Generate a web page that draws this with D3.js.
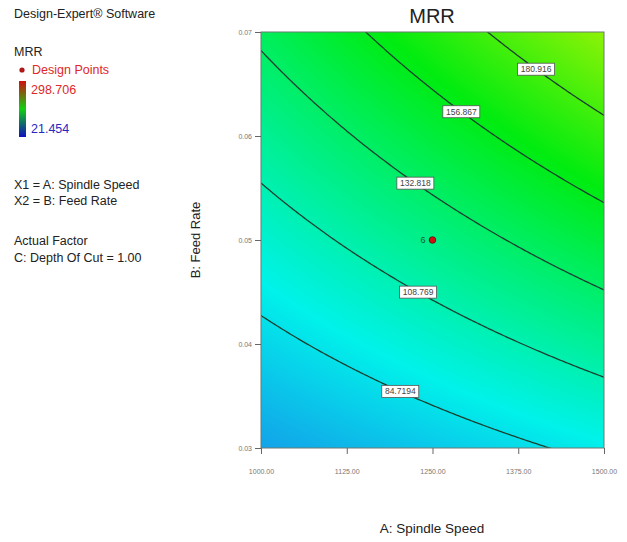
<!DOCTYPE html>
<html lang="en">
<head>
	<title>MRR contour</title>
	<script src="https://d3js.org/d3.v7.min.js" charset="utf-8"></script>
	<style>
	body { margin: 0; background: #fff; }
	text { font-family: "Liberation Sans", Arial, sans-serif; }
	</style>
</head>
<body>
	<script>
	// Factor ranges and ticks
	var speedTicks = [1000, 1125, 1250, 1375, 1500];
	var feedTicks = [0.03, 0.04, 0.05, 0.06, 0.07];

	// Fitted model in coded units: MRR = b0 + b1*x1 + b2*x2 + b12*x1*x2
	var modelCoef = [122.5, 24.07, 47.53, 9.78];

	// Contour levels and where (spindle speed) each label sits
	var contourLevels = [84.7194, 108.769, 132.818, 156.867, 180.916];
	var labelSpeeds = [1203, 1229, 1225, 1292, 1401];

	// Design points: speed, feed, replicate count
	var designSpeed = [1250];
	var designFeed = [0.05];
	var designCount = [6];

	// Colour range of the response
	var responseMin = 21.454, responseMax = 298.706;

	var w = 627, h = 542;
	var plot = { left: 261, top: 32, right: 604, bottom: 448 };

	var x = d3.scaleLinear().domain([1000, 1500]).range([plot.left, plot.right]);
	var y = d3.scaleLinear().domain([0.03, 0.07]).range([plot.bottom, plot.top]);

	function mrr(a, b) {
		var x1 = (a - 1250) / 250, x2 = (b - 0.05) / 0.02;
		return modelCoef[0] + modelCoef[1] * x1 + modelCoef[2] * x2 + modelCoef[3] * x1 * x2;
	}
	// solve feed for a given level (model is linear in x2)
	function feedAt(level, a) {
		var x1 = (a - 1250) / 250;
		var x2 = (level - modelCoef[0] - modelCoef[1] * x1) / (modelCoef[2] + modelCoef[3] * x1);
		return 0.05 + 0.02 * x2;
	}

	var color = d3.scaleLinear()
		.domain([0, 0.25, 0.5, 0.75, 1].map(function(t) { return responseMin + t * (responseMax - responseMin); }))
		.range(["#2a3ce8", "#00f2ea", "#00ec10", "#e0f600", "#ff0000"]);

	var svg = d3.select("body").append("svg")
		.attr("width", w)
		.attr("height", h);

	// raster fill drawn on a canvas, placed as image
	var pw = plot.right - plot.left, ph = plot.bottom - plot.top;
	var canvas = document.createElement("canvas");
	canvas.width = pw; canvas.height = ph;
	var ctx = canvas.getContext("2d");
	var img = ctx.createImageData(pw, ph);
	for (var j = 0; j < ph; j++) {
		for (var i = 0; i < pw; i++) {
			var c = d3.rgb(color(mrr(x.invert(plot.left + i + 0.5), y.invert(plot.top + j + 0.5))));
			var k = (j * pw + i) * 4;
			img.data[k] = c.r; img.data[k + 1] = c.g; img.data[k + 2] = c.b; img.data[k + 3] = 255;
		}
	}
	ctx.putImageData(img, 0, 0);
	svg.append("image")
		.attr("x", plot.left).attr("y", plot.top)
		.attr("width", pw).attr("height", ph)
		.attr("href", canvas.toDataURL());

	svg.append("clipPath").attr("id", "clip")
		.append("rect")
		.attr("x", plot.left).attr("y", plot.top)
		.attr("width", pw).attr("height", ph);

	// contour lines
	var speeds = d3.range(1000, 1500.1, 2.5);
	var line = d3.line()
		.x(function(d) { return x(d[0]); })
		.y(function(d) { return y(d[1]); });

	svg.append("g").attr("clip-path", "url(#clip)")
		.selectAll("path")
		.data(contourLevels)
		.enter()
		.append("path")
		.attr("d", function(L) {
			var pts = speeds.map(function(a) { return [a, feedAt(L, a)]; })
				.filter(function(p) { return p[1] > 0.025 && p[1] < 0.075; });
			return line(pts);
		})
		.attr("fill", "none")
		.attr("stroke", "#1c4030")
		.attr("stroke-width", 1.3);

	// plot frame
	svg.append("rect")
		.attr("x", plot.left).attr("y", plot.top)
		.attr("width", pw).attr("height", ph)
		.attr("fill", "none")
		.attr("stroke", "#6a7a70")
		.attr("stroke-width", 1);

	// contour labels
	var labels = svg.append("g").selectAll("g")
		.data(contourLevels)
		.enter()
		.append("g")
		.attr("transform", function(L, i) {
			return "translate(" + x(labelSpeeds[i]) + "," + y(feedAt(L, labelSpeeds[i])) + ")";
		});
	labels.append("rect")
		.attr("x", -18.5).attr("y", -6)
		.attr("width", 37).attr("height", 12)
		.attr("fill", "#fff")
		.attr("stroke", "#555")
		.attr("stroke-width", 0.8);
	labels.append("text")
		.attr("text-anchor", "middle")
		.attr("dy", "0.35em")
		.attr("font-size", "8.5px")
		.attr("fill", "#444")
		.text(function(L) { return String(L); });

	// design points
	designSpeed.forEach(function(a, i) {
		svg.append("circle")
			.attr("cx", x(a)).attr("cy", y(designFeed[i]))
			.attr("r", 3.3)
			.attr("fill", "#d01010")
			.attr("stroke", "#5a1010")
			.attr("stroke-width", 0.8);
		svg.append("text")
			.attr("x", x(a) - 7).attr("y", y(designFeed[i]))
			.attr("dy", "0.35em")
			.attr("text-anchor", "end")
			.attr("font-size", "9px")
			.attr("fill", "#1a5a2a")
			.text(designCount[i]);
	});

	// axes
	var xAxis = d3.axisBottom(x).tickValues(speedTicks).tickSize(6).tickFormat(d3.format(".2f"));
	var gx = svg.append("g").attr("transform", "translate(0," + plot.bottom + ")").call(xAxis);
	var yAxis = d3.axisLeft(y).tickValues(feedTicks).tickSize(6).tickFormat(d3.format(".2f"));
	var gy = svg.append("g").attr("transform", "translate(" + plot.left + ",0)").call(yAxis);
	[gx, gy].forEach(function(g) {
		g.select(".domain").remove();
		g.selectAll("line").attr("stroke", "#666");
		g.selectAll("text").attr("font-size", "7px").attr("fill", "#777")
			.attr("font-family", "'Liberation Sans', Arial, sans-serif");
	});
	gx.selectAll("text").attr("dy", "2.4em");

	// title and axis titles
	svg.append("text")
		.attr("x", 432).attr("y", 23)
		.attr("text-anchor", "middle")
		.attr("font-size", "20px")
		.attr("fill", "#222")
		.text("MRR");
	svg.append("text")
		.attr("text-anchor", "middle")
		.attr("font-size", "13px")
		.attr("fill", "#222")
		.attr("transform", "translate(200, 240) rotate(-90)")
		.text("B: Feed Rate");
	svg.append("text")
		.attr("x", 432).attr("y", 533)
		.attr("text-anchor", "middle")
		.attr("font-size", "13.5px")
		.attr("fill", "#222")
		.text("A: Spindle Speed");

	// left legend
	var legend = svg.append("g").attr("font-size", "12.5px").attr("fill", "#222");
	var legendLines = [
		["Design-Expert\u00ae Software", 18],
		["MRR", 56],
		["X1 = A: Spindle Speed", 189],
		["X2 = B: Feed Rate", 205],
		["Actual Factor", 245],
		["C: Depth Of Cut = 1.00", 262]
	];
	legend.selectAll("text.l")
		.data(legendLines)
		.enter()
		.append("text")
		.attr("x", 14)
		.attr("y", function(d) { return d[1]; })
		.text(function(d) { return d[0]; });

	legend.append("circle").attr("cx", 22).attr("cy", 70).attr("r", 2.6).attr("fill", "#b01818");
	legend.append("text").attr("x", 32).attr("y", 74).attr("fill", "#e02828").text("Design Points");

	var grad = svg.append("defs").append("linearGradient")
		.attr("id", "bar").attr("x1", 0).attr("y1", 1).attr("x2", 0).attr("y2", 0);
	[0, 0.5, 1].forEach(function(t, i) {
		grad.append("stop").attr("offset", t).attr("stop-color", ["#1010c0", "#10d010", "#d01010"][i]);
	});
	legend.append("rect")
		.attr("x", 19).attr("y", 81)
		.attr("width", 7).attr("height", 56)
		.attr("fill", "url(#bar)");
	legend.append("text").attr("x", 31).attr("y", 94).attr("fill", "#e02828").text(responseMax.toFixed(3));
	legend.append("text").attr("x", 31).attr("y", 133).attr("fill", "#2828c0").text(responseMin.toFixed(3));
	</script>
</body>
</html>
